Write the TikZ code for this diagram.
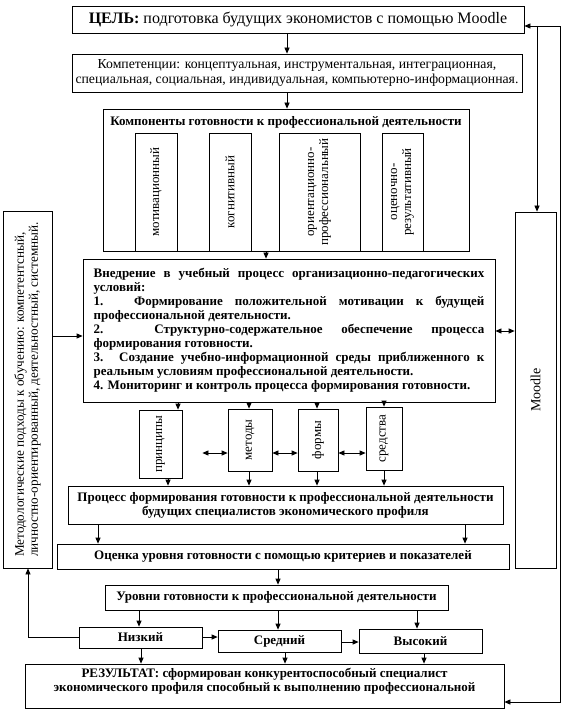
\documentclass[tikz,border=0pt]{standalone}
\usepackage{fontspec}
\setmainfont{Liberation Serif}
\usetikzlibrary{arrows.meta}
\setlength{\parindent}{0pt}
\newcommand\mkbox[7]{\node[box,minimum width={(#4-#2)*0.75pt},minimum height={(#5-#3)*0.75pt},#6] (#1) at ({(#2+#4)/2},{(#3+#5)/2}) {#7};}
\begin{document}
\begin{tikzpicture}[x=0.75pt,y=-0.75pt,
 box/.style={draw,line width=0.6pt,inner sep=0pt},
 fr/.style={font=\fontsize{9.75}{10.5}\selectfont},
 fb/.style={font=\fontsize{9.75}{10.5}\selectfont\bfseries},
 arr/.style={line width=0.6pt,-{Triangle[length=4.5pt,width=3.8pt]}},
 darr/.style={line width=0.6pt,{Triangle[length=4.5pt,width=3.8pt]}-{Triangle[length=4.5pt,width=3.8pt]}},
 vt/.style={rotate=90,inner sep=0pt,align=center}]
\useasboundingbox[fill=white] (0,0) rectangle (566,712);

% boxes
\mkbox{cel}{72}{6}{524}{33}{font=\fontsize{12}{14}\selectfont}{\textbf{ЦЕЛЬ:} подготовка будущих экономистов с помощью Moodle}
\mkbox{komp}{72}{54}{522}{92}{font=\fontsize{10.3}{10.8}\selectfont,align=center}{Компетенции: концептуальная, инструментальная, интеграционная,\\специальная, социальная, индивидуальная, компьютерно-информационная.}
\mkbox{comps}{103}{109}{469}{251}{}{}
\node[fb,inner sep=0pt] (compst) at (286,122) {Компоненты готовности к профессиональной деятельности};
\mkbox{c1}{135}{133}{177}{251}{}{}
\node[fr,vt] (c1t) at (c1.center) {мотивационный};
\mkbox{c2}{209}{133}{251}{251}{}{}
\node[fr,vt] (c2t) at (c2.center) {когнитивный};
\mkbox{c3}{279}{133}{360}{251}{}{}
\node[fr,vt] (c3t) at (c3.center) {ориентационно-\\профессиональный};
\mkbox{c4}{382}{133}{423}{251}{}{}
\node[fr,vt] (c4t) at (c4.center) {оценочно-\\результативный};

\mkbox{metod}{3}{211}{52}{568}{}{}
\node[vt,align=left,font=\fontsize{9.9}{10.6}\selectfont] (metodt) at (metod.center) {Методологические подходы к обучению: компетентсный,\\личностно-ориентированный, деятельностный, системный.};
\mkbox{moodle}{515}{212}{556}{568}{}{}
\node[vt,font=\fontsize{10.5}{12}\selectfont] (moodlet) at (moodle.center) {Moodle};

\mkbox{vned}{83}{259}{495}{402}{fb,text width=293pt,align=justify}{Внедрение в учебный процесс организационно-педагогических\linebreak условий:\par
1. Формирование положительной мотивации к будущей\linebreak профессиональной деятельности.\par
2. Структурно-содержательное обеспечение процесса\linebreak формирования готовности.\par
3. Создание учебно-информационной среды приближенного к\linebreak реальным условиям профессиональной деятельности.\par
4. Мониторинг и контроль процесса формирования готовности.}

\mkbox{prin}{139}{410}{182}{478}{}{}
\node[fr,vt] (print) at (prin.center) {принципы};
\mkbox{metody}{228}{409}{272}{471}{}{}
\node[fr,vt] (metodyt) at (metody.center) {методы};
\mkbox{formy}{298}{409}{338}{471}{}{}
\node[fr,vt] (formyt) at (formy.center) {формы};
\mkbox{sredstva}{366}{407}{402}{470}{}{}
\node[fr,vt] (sredstvat) at (sredstva.center) {средства};

\mkbox{proc}{68}{486}{503}{524}{fb,align=center}{Процесс формирования готовности к профессиональной деятельности\\будущих специалистов экономического профиля}
\mkbox{ocenka}{57}{544}{509}{569}{fb}{Оценка уровня готовности с помощью критериев и показателей}
\mkbox{urovni}{105}{585}{448}{610}{fb}{Уровни готовности к профессиональной деятельности}
\mkbox{nizk}{79}{627}{202}{648}{fb}{Низкий}
\mkbox{sred}{218}{630}{341}{652}{fb}{Средний}
\mkbox{vys}{359}{629}{482}{653}{fb}{Высокий}
\mkbox{rez}{25}{664}{504}{708}{}{}
\node[fb,align=center,anchor=north,inner sep=0pt] (rezt) at ([yshift=-3pt]rez.north) {РЕЗУЛЬТАТ: сформирован конкурентоспособный специалист\\экономического профиля способный к выполнению профессиональной};

% helper coordinates
\coordinate (X287) at (287,0);
\coordinate (X266) at (266,0);
\coordinate (X178) at (178,0);
\coordinate (X249) at (249,0);
\coordinate (X317) at (317,0);
\coordinate (X384) at (384,0);
\coordinate (X168) at (168,0);
\coordinate (X98) at (98,0);
\coordinate (X465) at (465,0);
\coordinate (X278) at (278,0);
\coordinate (X139) at (139,0);
\coordinate (X417) at (417,0);
\coordinate (X141) at (141,0);
\coordinate (X285) at (285,0);
\coordinate (X424) at (424,0);
\coordinate (Y336) at (0,336);
\coordinate (Y331) at (0,331);
\coordinate (Y453) at (0,453);
\coordinate (Y637) at (0,637);
\coordinate (Y642) at (0,642);
\coordinate (Y26) at (0,26);
\coordinate (Y702) at (0,702);
\coordinate (R1) at (560,26);
\coordinate (R2) at (560,702);
\coordinate (J) at (537,26);
\coordinate (L1) at (28,637);

% connectors
\draw[arr] (cel.south -| X287) -- (komp.north -| X287);
\draw[arr] (komp.south -| X287) -- (comps.north -| X287);
\draw[arr] (comps.south -| X266) -- (vned.north -| X266);
\draw[arr] (metod.east |- Y336) -- (vned.west |- Y336);
\draw[darr] (vned.east |- Y331) -- (moodle.west |- Y331);
\draw[arr] (vned.south -| X178) -- (prin.north -| X178);
\draw[arr] (vned.south -| X249) -- (metody.north -| X249);
\draw[arr] (vned.south -| X317) -- (formy.north -| X317);
\draw[arr] (vned.south -| X384) -- (sredstva.north -| X384);
\draw[darr,shorten <=15pt] (prin.east |- Y453) -- (metody.west |- Y453);
\draw[darr] (metody.east |- Y453) -- (formy.west |- Y453);
\draw[darr] (formy.east |- Y453) -- (sredstva.west |- Y453);
\draw[arr] (prin.south -| X168) -- (proc.north -| X168);
\draw[arr] (metody.south -| X249) -- (proc.north -| X249);
\draw[arr] (formy.south -| X317) -- (proc.north -| X317);
\draw[arr] (sredstva.south -| X384) -- (proc.north -| X384);
\draw[arr] (proc.south -| X98) -- (ocenka.north -| X98);
\draw[arr] (proc.south -| X465) -- (ocenka.north -| X465);
\draw[arr] (ocenka.south -| X278) -- (urovni.north -| X278);
\draw[arr] (urovni.south -| X139) -- (nizk.north -| X139);
\draw[arr] (urovni.south -| X278) -- (sred.north -| X278);
\draw[arr] (urovni.south -| X417) -- (vys.north -| X417);
\draw[arr] (nizk.east |- Y637) -- (sred.west |- Y637);
\draw[arr] (sred.east |- Y642) -- (vys.west |- Y642);
\draw[arr] (nizk.west |- L1) -- (L1) -- (metod.south -| L1);
\draw[arr] (nizk.south -| X141) -- (rez.north -| X141);
\draw[arr] (sred.south -| X285) -- (rez.north -| X285);
\draw[arr] (vys.south -| X424) -- (rez.north -| X424);
\draw[darr] (cel.east |- Y26) -- (R1) -- (R2) -- (rez.east |- Y702);
\draw[arr] (J) -- (moodle.north -| J);
\end{tikzpicture}
\end{document}
